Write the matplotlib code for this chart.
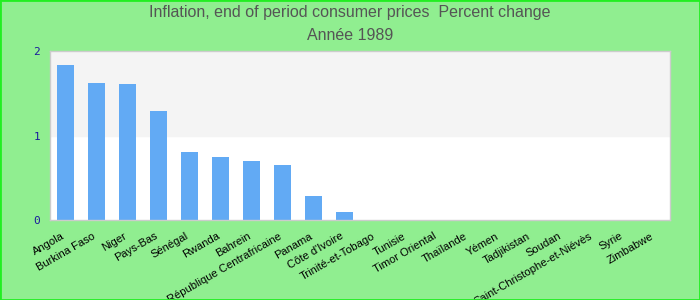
import matplotlib
matplotlib.use("Agg")
import matplotlib.pyplot as plt
from matplotlib.patches import Rectangle

plt.rcParams['font.family'] = ['Liberation Sans', 'DejaVu Sans']

countries = ["Angola", "Burkina Faso", "Niger", "Pays-Bas", "Sénégal", "Rwanda",
             "Bahrein", "République Centrafricaine", "Panama", "Côte d'Ivoire",
             "Trinité-et-Tobago", "Tunisie", "Timor Oriental", "Thaïlande", "Yémen",
             "Tadjikistan", "Soudan", "Saint-Christophe-et-Niévès", "Syrie", "Zimbabwe"]
values = [1.84, 1.625, 1.61, 1.29, 0.81, 0.74, 0.70, 0.65, 0.28, 0.09,
          0, 0, 0, 0, 0, 0, 0, 0, 0, 0]
yticks = [0, 1, 2]

fig = plt.figure(figsize=(7, 3), dpi=100, facecolor="#90ee90")
ax = fig.add_axes([50 / 700, 1 - 220 / 300, 620 / 700, 169 / 300])
ax.set_facecolor("white")

n = len(countries)
ax.set_xlim(-0.5, n - 0.5)
ax.set_ylim(0, 2)
ax.axhspan(1, 2, color="#f4f4f4", zorder=0)
ax.bar(range(n), values, width=0.55, color="#62aaf4", zorder=2)

for s in ax.spines.values():
    s.set_color("#cccccc")
    s.set_linewidth(1)

ax.set_yticks(yticks)
ax.set_yticklabels([str(v) for v in yticks], family="DejaVu Sans Mono",
                   fontsize=8, color="#1a1a9c")
ax.tick_params(axis="y", length=0, pad=7)
ax.set_xticks(range(n))
ax.set_xticklabels([])
ax.tick_params(axis="x", length=0)

for i, name in enumerate(countries):
    ax.annotate(name, xy=(i, 0), xycoords=("data", "axes fraction"),
                xytext=(-4, -11), textcoords="offset pixels",
                rotation=30, ha="right", va="top", rotation_mode="anchor",
                fontsize=8, color="black")

fig.text(0.5, 1 - 13 / 300, "Inflation, end of period consumer prices  Percent change",
         ha="center", va="center", fontsize=11.5, color="#555555")
fig.text(0.5, 1 - 36 / 300, "Année 1989", ha="center", va="center",
         fontsize=11.5, color="#555555")

fig.patches.append(Rectangle((0, 0), 1, 1, transform=fig.transFigure, fill=False,
                             edgecolor="#22ee22", linewidth=2))

fig.savefig("out.png", dpi=100, facecolor=fig.get_facecolor())
